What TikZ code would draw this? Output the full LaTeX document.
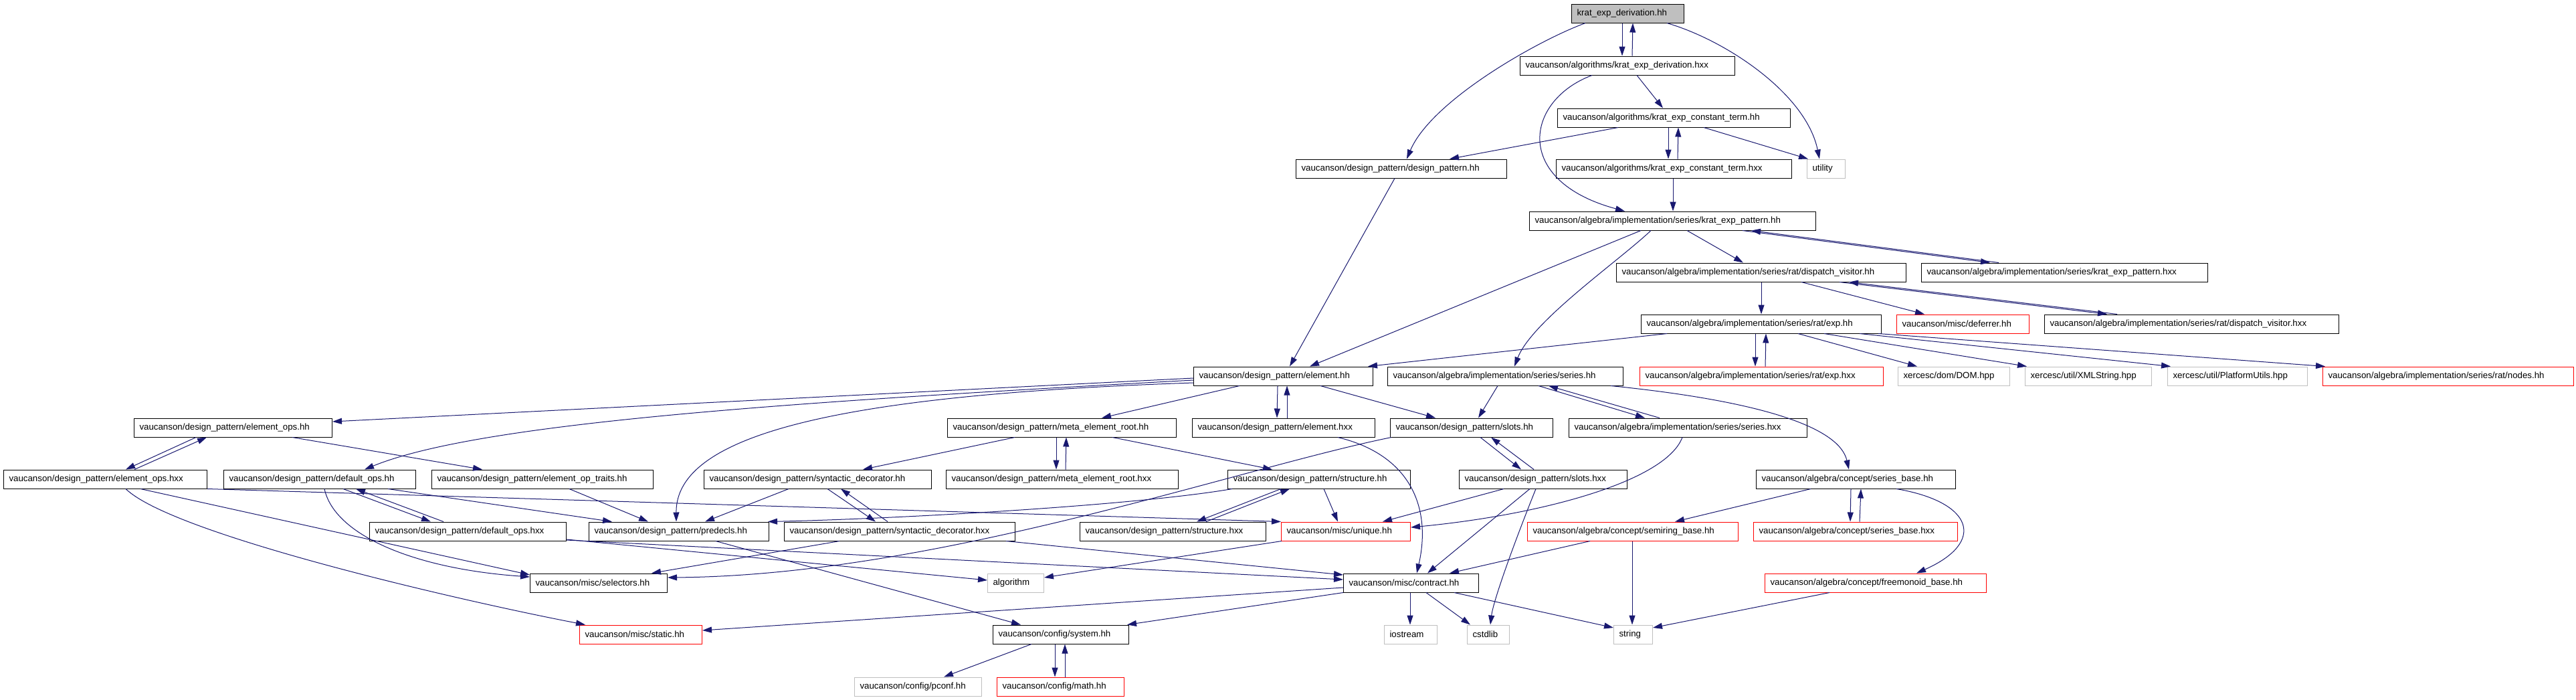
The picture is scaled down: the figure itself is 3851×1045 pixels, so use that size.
\documentclass[tikz,border=0pt]{standalone}
\usepackage{fontspec}
\setmainfont{Liberation Sans}
\usetikzlibrary{arrows.meta}
\definecolor{edgeblue}{HTML}{191970}
\definecolor{boxgray}{HTML}{BFBFBF}
\tikzstyle{file}=[draw=black,line width=1pt,rectangle,anchor=west,minimum height=28pt,inner xsep=8pt,inner ysep=0pt,align=left,font=\fontsize{13.3}{15}\selectfont]
\tikzstyle{red file}=[file,draw=red]
\tikzstyle{sys file}=[file,draw=boxgray]
\tikzstyle{main file}=[file,fill=boxgray]
\tikzstyle{edge}=[draw=edgeblue,line width=1pt,-{Triangle[length=14pt,width=9pt]}]
\begin{document}
\begin{tikzpicture}[x=1pt,y=-1pt]
\useasboundingbox (0,0) rectangle (3851,1045);
% files, row by row
\node[main file,text width=152pt] (D) at (2349,20) {krat\_exp\_derivation.hh};
\node[file,text width=305pt] (DX) at (2272,98) {vaucanson/algorithms/krat\_exp\_derivation.hxx};
\node[file,text width=332pt] (CT) at (2328,176) {vaucanson/algorithms/krat\_exp\_constant\_term.hh};
\node[file,text width=299pt] (DP) at (1937,252) {vaucanson/design\_pattern/design\_pattern.hh};
\node[file,text width=336pt] (CTX) at (2326,252) {vaucanson/algorithms/krat\_exp\_constant\_term.hxx};
\node[sys file,text width=41pt] (UT) at (2701,252) {utility};
\node[file,text width=412pt] (KP) at (2286,330) {vaucanson/algebra/implementation/series/krat\_exp\_pattern.hh};
\node[file,text width=417pt] (DV) at (2416,407) {vaucanson/algebra/implementation/series/rat/dispatch\_visitor.hh};
\node[file,text width=412pt] (KPX) at (2872,407) {vaucanson/algebra/implementation/series/krat\_exp\_pattern.hxx};
\node[file,text width=343pt] (RE) at (2453,484) {vaucanson/algebra/implementation/series/rat/exp.hh};
\node[red file,text width=182pt] (DEF) at (2835,484) {vaucanson/misc/deferrer.hh};
\node[file,text width=424pt] (DVX) at (3056,484) {vaucanson/algebra/implementation/series/rat/dispatch\_visitor.hxx};
\node[file,text width=252pt] (E) at (1784,562) {vaucanson/design\_pattern/element.hh};
\node[file,text width=336pt] (S) at (2074,562) {vaucanson/algebra/implementation/series/series.hh};
\node[red file,text width=348pt] (REX) at (2451,562) {vaucanson/algebra/implementation/series/rat/exp.hxx};
\node[sys file,text width=151pt] (DOM) at (2837,562) {xercesc/dom/DOM.hpp};
\node[sys file,text width=173pt] (XML) at (3027,562) {xercesc/util/XMLString.hpp};
\node[sys file,text width=193pt] (PU) at (3240,562) {xercesc/util/PlatformUtils.hpp};
\node[red file,text width=359pt] (NOD) at (3472,562) {vaucanson/algebra/implementation/series/rat/nodes.hh};
\node[file,text width=280pt] (EO) at (200,639) {vaucanson/design\_pattern/element\_ops.hh};
\node[file,text width=326pt] (MER) at (1416,639) {vaucanson/design\_pattern/meta\_element\_root.hh};
\node[file,text width=257pt] (EX) at (1782,639) {vaucanson/design\_pattern/element.hxx};
\node[file,text width=227pt] (SL) at (2078,639) {vaucanson/design\_pattern/slots.hh};
\node[file,text width=340pt] (SX) at (2345,639) {vaucanson/algebra/implementation/series/series.hxx};
\node[file,text width=288pt] (EOX) at (5,716) {vaucanson/design\_pattern/element\_ops.hxx};
\node[file,text width=271pt] (DO) at (334,716) {vaucanson/design\_pattern/default\_ops.hh};
\node[file,text width=315pt] (EOT) at (645,716) {vaucanson/design\_pattern/element\_op\_traits.hh};
\node[file,text width=324pt] (SD) at (1052,716) {vaucanson/design\_pattern/syntactic\_decorator.hh};
\node[file,text width=331pt] (MERX) at (1414,716) {vaucanson/design\_pattern/meta\_element\_root.hxx};
\node[file,text width=257pt] (ST) at (1835,716) {vaucanson/design\_pattern/structure.hh};
\node[file,text width=235pt] (SLX) at (2181,716) {vaucanson/design\_pattern/slots.hxx};
\node[file,text width=282pt] (SB) at (2625,716) {vaucanson/algebra/concept/series\_base.hh};
\node[file,text width=278pt] (DOX) at (552,794) {vaucanson/design\_pattern/default\_ops.hxx};
\node[file,text width=253pt] (PD) at (880,794) {vaucanson/design\_pattern/predecls.hh};
\node[file,text width=329pt] (SDX) at (1172,794) {vaucanson/design\_pattern/syntactic\_decorator.hxx};
\node[file,text width=262pt] (STX) at (1614,794) {vaucanson/design\_pattern/structure.hxx};
\node[red file,text width=177pt] (UQ) at (1915,794) {vaucanson/misc/unique.hh};
\node[red file,text width=299pt] (SRB) at (2283,794) {vaucanson/algebra/concept/semiring\_base.hh};
\node[red file,text width=289pt] (SBX) at (2621,794) {vaucanson/algebra/concept/series\_base.hxx};
\node[file,text width=189pt] (SEL) at (792,871) {vaucanson/misc/selectors.hh};
\node[sys file,text width=68pt] (ALG) at (1476,871) {algorithm};
\node[file,text width=186pt] (CO) at (2008,871) {vaucanson/misc/contract.hh};
\node[red file,text width=315pt] (FMB) at (2638,871) {vaucanson/algebra/concept/freemonoid\_base.hh};
\node[red file,text width=167pt] (STA) at (866,948) {vaucanson/misc/static.hh};
\node[file,text width=187pt] (SYS) at (1484,948) {vaucanson/config/system.hh};
\node[sys file,text width=63pt] (IOS) at (2069,948) {iostream};
\node[sys file,text width=47pt] (CSTD) at (2193,948) {cstdlib};
\node[sys file,text width=42pt] (STR) at (2412,948) {string};
\node[sys file,text width=174pt] (PCONF) at (1277,1026) {vaucanson/config/pconf.hh};
\node[red file,text width=174pt] (MATH) at (1490,1026) {vaucanson/config/math.hh};
% includes
\draw[edge] ([xshift=76pt]D.south west) -- ([xshift=153pt]DX.north west);
\draw[edge] ([xshift=168pt]DX.north west) -- ([xshift=92pt]D.south west);
\draw[edge] ([xshift=21pt]D.south west) .. controls (2300,60) and (2140,150) .. ([xshift=166pt]DP.north west);
\draw[edge] ([xshift=143pt]D.south west) .. controls (2580,60) and (2700,140) .. ([xshift=19pt]UT.north west);
\draw[edge] ([xshift=175pt]DX.south west) -- ([xshift=158pt]CT.north west);
\draw[edge] ([xshift=108pt]DX.south west) .. controls (2280,150) and (2260,270) .. ([xshift=143pt]KP.north west);
\draw[edge] ([xshift=91pt]CT.south west) -- ([xshift=230pt]DP.north west);
\draw[edge] ([xshift=166pt]CT.south west) -- ([xshift=168pt]CTX.north west);
\draw[edge] ([xshift=182pt]CTX.north west) -- ([xshift=181pt]CT.south west);
\draw[edge] ([xshift=219pt]CT.south west) -- ([xshift=2pt]UT.north west);
\draw[edge] ([xshift=175pt]CTX.south west) -- ([xshift=215pt]KP.north west);
\draw[edge] ([xshift=148pt]DP.south west) -- ([xshift=144pt]E.north west);
\draw[edge] ([xshift=167pt]KP.south west) -- ([xshift=174pt]E.north west);
\draw[edge] ([xshift=182pt]KP.south west) .. controls (2420,390) and (2290,480) .. ([xshift=190pt]S.north west);
\draw[edge] ([xshift=236pt]KP.south west) -- ([xshift=190pt]DV.north west);
\draw[edge] ([xshift=319pt]KP.south west) -- ([xshift=103pt]KPX.north west);
\draw[edge] ([xshift=116pt]KPX.north west) -- ([xshift=332pt]KP.south west);
\draw[edge] ([xshift=217pt]DV.south west) -- ([xshift=180pt]RE.north west);
\draw[edge] ([xshift=277pt]DV.south west) -- ([xshift=42pt]DEF.north west);
\draw[edge] ([xshift=334pt]DV.south west) -- ([xshift=94pt]DVX.north west);
\draw[edge] ([xshift=109pt]DVX.north west) -- ([xshift=348pt]DV.south west);
\draw[edge] ([xshift=39pt]RE.south west) -- ([xshift=261pt]E.north west);
\draw[edge] ([xshift=171pt]RE.south west) -- ([xshift=173pt]REX.north west);
\draw[edge] ([xshift=188pt]REX.north west) -- ([xshift=187pt]RE.south west);
\draw[edge] ([xshift=235pt]RE.south west) -- ([xshift=29pt]DOM.north west);
\draw[edge] ([xshift=274pt]RE.south west) -- ([xshift=3pt]XML.north west);
\draw[edge] ([xshift=327pt]RE.south west) -- ([xshift=5pt]PU.north west);
\draw[edge] ([xshift=355pt]RE.south west) -- ([xshift=4pt]NOD.north west);
\draw[edge] ([xshift=126pt]E.south west) -- ([xshift=127pt]EX.north west);
\draw[edge] ([xshift=142pt]EX.north west) -- ([xshift=140pt]E.south west);
\draw[edge] ([xshift=190pt]E.south west) -- ([xshift=68pt]SL.north west);
\draw[edge] ([xshift=69pt]E.south west) -- ([xshift=231pt]MER.north west);
\draw[edge] ([yshift=-3pt]E.west) -- ([yshift=9pt]EO.east);
\draw[edge] ([yshift=-6pt]E.west) .. controls (1200,600) and (720,630) .. ([xshift=211pt]DO.north west);
\draw[edge] ([yshift=-10pt]E.west) .. controls (1250,590) and (1010,650) .. ([xshift=131pt]PD.north west);
\draw[edge] ([xshift=218pt]EX.south west) .. controls (2110,680) and (2140,760) .. ([xshift=110pt]CO.north west);
\draw[edge] ([xshift=165pt]S.south west) -- ([xshift=132pt]SL.north west);
\draw[edge] ([xshift=226pt]S.south west) -- ([xshift=114pt]SX.north west);
\draw[edge] ([xshift=136pt]SX.north west) -- ([xshift=241pt]S.south west);
\draw[edge] ([xshift=334pt]S.south west) .. controls (2640,600) and (2750,640) .. ([xshift=139pt]SB.north west);
\draw[edge] ([xshift=135pt]SL.south west) -- ([xshift=93pt]SLX.north west);
\draw[edge] ([xshift=112pt]SLX.north west) -- ([xshift=151pt]SL.south west);
\draw[edge] ([xshift=2pt]SL.south west) .. controls (1850,700) and (1400,860) .. ([yshift=8pt]SEL.east);
\draw[edge] ([xshift=170pt]SX.south west) .. controls (2490,720) and (2300,770) .. ([yshift=6pt]UQ.east);
\draw[edge] ([xshift=67pt]SLX.south west) -- ([xshift=152pt]UQ.north west);
\draw[edge] ([xshift=106pt]SLX.south west) -- ([xshift=126pt]CO.north west);
\draw[edge] ([xshift=115pt]SLX.south west) .. controls (2260,820) and (2232,900) .. ([xshift=35pt]CSTD.north west);
\draw[edge] ([xshift=144pt]ST.south west) -- ([xshift=85pt]UQ.north west);
\draw[edge] ([xshift=80pt]ST.south west) -- ([xshift=175pt]STX.north west);
\draw[edge] ([xshift=189pt]STX.north west) -- ([xshift=93pt]ST.south west);
\draw[edge] ([xshift=7pt]ST.south west) .. controls (1700,755) and (1350,775) .. ([xshift=268pt]PD.north west);
\draw[edge] ([xshift=101pt]MER.south west) -- ([xshift=238pt]SD.north west);
\draw[edge] ([xshift=163pt]MER.south west) -- ([xshift=165pt]MERX.north west);
\draw[edge] ([xshift=179pt]MERX.north west) -- ([xshift=178pt]MER.south west);
\draw[edge] ([xshift=247pt]MER.south west) -- ([xshift=67pt]ST.north west);
\draw[edge] ([xshift=127pt]SD.south west) -- ([xshift=174pt]PD.north west);
\draw[edge] ([xshift=185pt]SD.south west) -- ([xshift=137pt]SDX.north west);
\draw[edge] ([xshift=155pt]SDX.north west) -- ([xshift=205pt]SD.south west);
\draw[edge] ([xshift=83pt]SDX.south west) -- ([xshift=182pt]SEL.north west);
\draw[edge] ([xshift=332pt]SDX.south west) -- ([yshift=12pt]CO.west);
\draw[edge] ([xshift=179pt]DO.south west) -- ([xshift=92pt]DOX.north west);
\draw[edge] ([xshift=111pt]DOX.north west) -- ([xshift=198pt]DO.south west);
\draw[edge] ([xshift=246pt]DO.south west) -- ([xshift=35pt]PD.north west);
\draw[edge] ([xshift=151pt]DO.south west) .. controls (500,800) and (620,850) .. ([yshift=9pt]SEL.west);
\draw[edge] ([yshift=-12pt]DOX.east) -- ([yshift=4pt]ALG.west);
\draw[edge] ([yshift=-13pt]DOX.east) -- ([yshift=5pt]CO.west);
\draw[edge] ([xshift=206pt]EOT.south west) -- ([xshift=89pt]PD.north west);
\draw[edge] ([xshift=93pt]EO.south west) -- ([xshift=183pt]EOX.north west);
\draw[edge] ([xshift=196pt]EOX.north west) -- ([xshift=109pt]EO.south west);
\draw[edge] ([xshift=237pt]EO.south west) -- ([xshift=76pt]EOT.north west);
\draw[edge] (EOX.south east) -- (UQ.north west);
\draw[edge] ([xshift=205pt]EOX.south west) -- ([yshift=12pt]SEL.west);
\draw[edge] ([xshift=183pt]EOX.south west) .. controls (260,800) and (700,900) .. ([xshift=9pt]STA.north west);
\draw[edge] ([yshift=-7pt]CO.west) -- ([yshift=6pt]STA.east);
\draw[edge] (CO.south west) -- ([xshift=201pt]SYS.north west);
\draw[edge] ([xshift=100pt]CO.south west) -- ([xshift=39pt]IOS.north west);
\draw[edge] ([xshift=124pt]CO.south west) -- ([xshift=5pt]CSTD.north west);
\draw[edge] ([xshift=166pt]CO.south west) -- ([yshift=10pt]STR.west);
\draw[edge] ([xshift=190pt]PD.south west) -- ([xshift=42pt]SYS.north west);
\draw[edge] ([xshift=1pt]UQ.south west) -- ([yshift=8pt]ALG.east);
\draw[edge] ([xshift=94pt]SRB.south west) -- ([xshift=159pt]CO.north west);
\draw[edge] ([xshift=157pt]SRB.south west) -- ([xshift=28pt]STR.north west);
\draw[edge] ([xshift=97pt]FMB.south west) -- ([yshift=10pt]STR.east);
\draw[edge] ([xshift=82pt]SB.south west) -- ([xshift=221pt]SRB.north west);
\draw[edge] ([xshift=142pt]SB.south west) -- ([xshift=145pt]SBX.north west);
\draw[edge] ([xshift=159pt]SBX.north west) -- ([xshift=157pt]SB.south west);
\draw[edge] ([xshift=210pt]SB.south west) .. controls (2950,750) and (2970,810) .. ([xshift=227pt]FMB.north west);
\draw[edge] ([xshift=58pt]SYS.south west) -- ([xshift=134pt]PCONF.north west);
\draw[edge] ([xshift=93pt]SYS.south west) -- ([xshift=87pt]MATH.north west);
\draw[edge] ([xshift=102pt]MATH.north west) -- ([xshift=108pt]SYS.south west);
\end{tikzpicture}
\end{document}
